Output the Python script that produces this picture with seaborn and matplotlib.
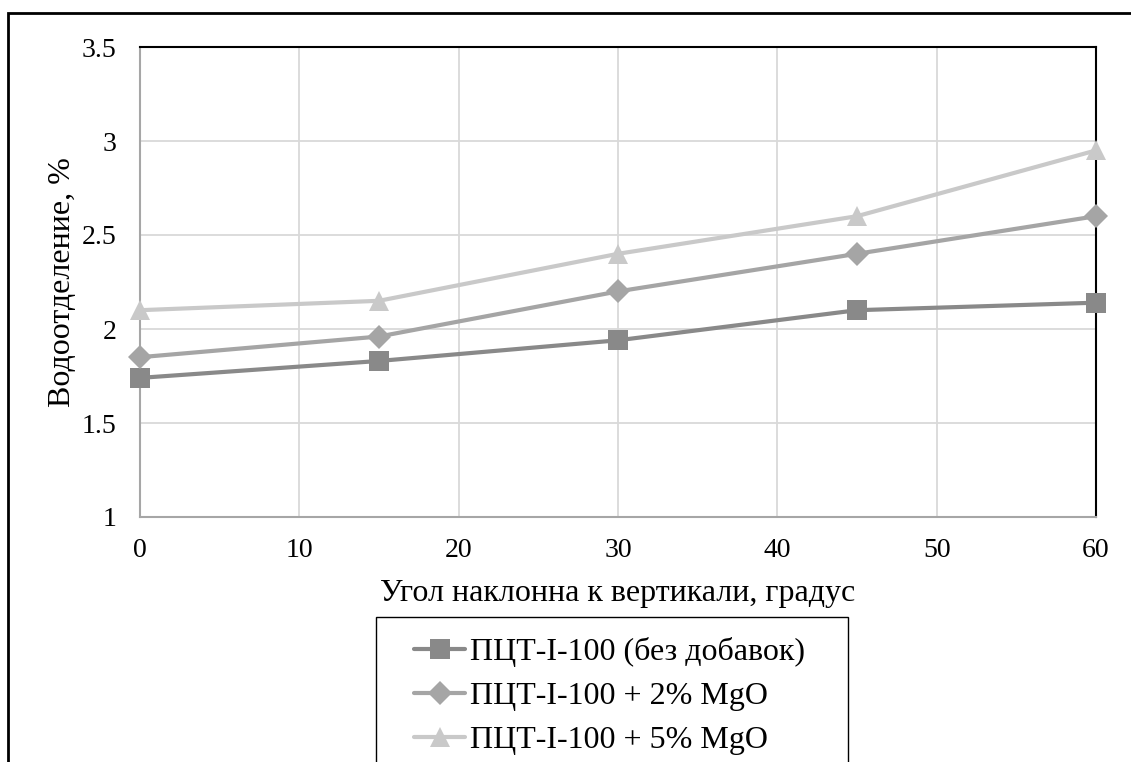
import matplotlib
matplotlib.use("Agg")
import matplotlib.pyplot as plt
import seaborn as sns
import pandas as pd
from matplotlib.patches import Rectangle

# Water separation vs. inclination angle
angles = [0, 15, 30, 45, 60]
series_names = ["ПЦТ-I-100 (без добавок)", "ПЦТ-I-100 + 2% MgO", "ПЦТ-I-100 + 5% MgO"]
base_vals = [1.74, 1.83, 1.94, 2.10, 2.14]
mgo2_vals = [1.85, 1.96, 2.20, 2.40, 2.60]
mgo5_vals = [2.10, 2.15, 2.40, 2.60, 2.95]
x_ticks = [0, 10, 20, 30, 40, 50, 60]
y_ticks = [1, 1.5, 2, 2.5, 3, 3.5]
y_tick_labels = ["1", "1.5", "2", "2.5", "3", "3.5"]
x_label = "Угол наклонна к вертикали, градус"
y_label = "Водоотделение, %"

colors = ["#898989", "#a5a5a5", "#c9c9c9"]
markers = ["s", "D", "^"]
marker_sizes = [14, 12.5, 15]

df = pd.concat([
    pd.DataFrame({"angle": angles, "value": vals, "series": name})
    for name, vals in zip(series_names, [base_vals, mgo2_vals, mgo5_vals])
])

sns.set_theme(style="white")
plt.rcParams["font.family"] = ["Liberation Serif", "DejaVu Serif"]
plt.rcParams["text.color"] = "black"

fig = plt.figure(figsize=(11.31, 7.62), dpi=100)
W, H = 1131, 762
ax = fig.add_axes([140 / W, 1 - 517 / H, (1096 - 140) / W, (517 - 47) / H])

for name, col, mk, ms in zip(series_names, colors, markers, marker_sizes):
    sub = df[df["series"] == name]
    sns.lineplot(data=sub, x="angle", y="value", ax=ax, color=col, linewidth=3,
                 marker=mk, markersize=ms, markeredgewidth=0, label=name,
                 clip_on=False, zorder=3)

ax.set_xlim(0, 60)
ax.set_ylim(1, 3.5)
ax.set_xticks(x_ticks)
ax.set_xticklabels([str(t) for t in x_ticks])
ax.set_yticks(y_ticks)
ax.set_yticklabels(y_tick_labels)
ax.grid(True, color="#d9d9d9", linewidth=1.3)
ax.set_axisbelow(True)
ax.tick_params(axis="both", length=0, labelsize=20, colors="black")
ax.tick_params(axis="x", pad=15)
ax.tick_params(axis="y", pad=17)
for side in ["top", "right"]:
    ax.spines[side].set_color("black")
    ax.spines[side].set_linewidth(1.5)
for side in ["left", "bottom"]:
    ax.spines[side].set_color("#a6a6a6")
    ax.spines[side].set_linewidth(1.5)

ax.set_xlabel(x_label, fontsize=23, labelpad=12, color="black")
ax.set_ylabel(y_label, fontsize=23, labelpad=3, color="black")

ax.legend_.remove()
handles, labels = ax.get_legend_handles_labels()
leg = fig.legend(handles, labels, loc="center left",
                 bbox_to_anchor=(414 / W, 1 - 696 / H),
                 fontsize=23, frameon=False,
                 handlelength=1.6, handletextpad=0.15, labelspacing=0.46,
                 borderpad=0, borderaxespad=0)
for t in leg.get_texts():
    t.set_color("black")

# legend box (runs past the bottom edge)
fig.patches.append(Rectangle((376 / W, -0.1), (848 - 376) / W, 1 - 617 / H + 0.1,
                             transform=fig.transFigure, fill=False,
                             edgecolor="black", linewidth=1.0))

# outer chart border (runs past the right and bottom edges)
fig.patches.append(Rectangle((8 / W, -0.1), 1.2, 1 - 13 / H + 0.1,
                             transform=fig.transFigure, fill=False,
                             edgecolor="black", linewidth=2))

fig.savefig("out.png", dpi=100)
